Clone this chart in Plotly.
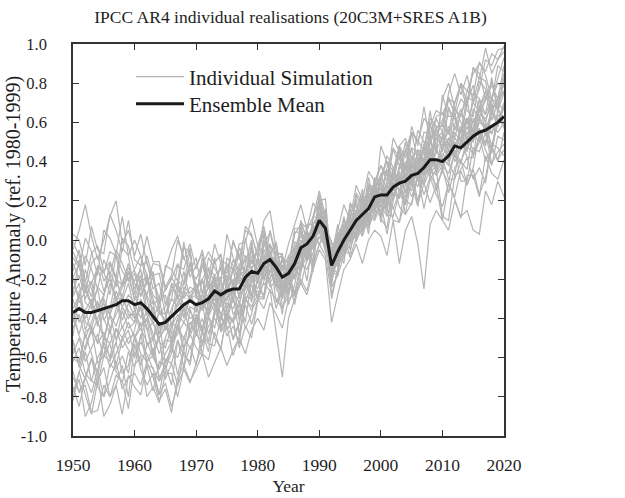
import plotly.graph_objects as go

years = list(range(1950, 2021))

ensemble_mean = [
    -0.37, -0.35, -0.37, -0.37, -0.36, -0.35, -0.34, -0.33, -0.31, -0.31,
    -0.33, -0.32, -0.35, -0.39, -0.43, -0.42, -0.39, -0.36, -0.33, -0.31,
    -0.33, -0.32, -0.30, -0.26, -0.28, -0.26, -0.25, -0.25, -0.19, -0.16,
    -0.17, -0.12, -0.10, -0.14, -0.19, -0.17, -0.12, -0.04, -0.02, 0.02,
    0.10, 0.06, -0.13, -0.06, 0.00, 0.05, 0.10, 0.13, 0.16, 0.22,
    0.23, 0.23, 0.27, 0.29, 0.30, 0.33, 0.34, 0.37, 0.41, 0.41,
    0.40, 0.43, 0.48, 0.47, 0.50, 0.53, 0.55, 0.56, 0.58, 0.60, 0.63,
]

sim_01 = [-0.67,-0.78,-0.70,-0.60,-0.75,-0.80,-0.63,-0.67,-0.73,-0.57,
          -0.65,-0.48,-0.64,-0.77,-0.62,-0.64,-0.74,-0.51,-0.59,-0.62,
          -0.39,-0.47,-0.57,-0.38,-0.37,-0.49,-0.44,-0.53,-0.29,-0.30,
          -0.26,-0.28,-0.09,-0.20,-0.38,-0.14,-0.14,-0.15,0.04,-0.12,
          0.20,0.21,-0.16,-0.12,0.04,0.04,0.24,0.19,0.08,0.23,
          0.23,0.37,0.46,0.38,0.46,0.32,0.38,0.55,0.54,0.63,
          0.65,0.55,0.70,0.79,0.66,0.63,0.81,0.77,0.71,0.89,0.86]
sim_02 = [-0.01,-0.08,-0.22,-0.07,-0.03,-0.16,-0.11,-0.19,0.01,-0.03,
          -0.16,-0.22,-0.08,-0.19,-0.36,-0.13,-0.15,-0.21,-0.01,-0.19,
          -0.13,-0.07,-0.23,-0.22,-0.14,-0.17,-0.01,-0.09,-0.17,-0.05,
          -0.22,-0.03,0.04,-0.10,-0.08,-0.23,-0.13,0.09,0.06,0.19,
          0.13,-0.04,-0.13,0.04,-0.06,-0.07,0.14,0.12,0.07,0.29,
          0.09,0.25,0.16,0.09,0.29,0.29,0.17,0.40,0.33,0.28,
          0.35,0.29,0.22,0.36,0.42,0.31,0.37,0.29,0.49,0.47,0.43]
sim_03 = [-0.51,-0.65,-0.54,-0.45,-0.63,-0.59,-0.45,-0.64,-0.51,-0.46,
          -0.59,-0.49,-0.40,-0.59,-0.66,-0.51,-0.52,-0.40,-0.55,-0.49,
          -0.41,-0.33,-0.48,-0.37,-0.26,-0.46,-0.40,-0.31,-0.42,-0.19,
          -0.29,-0.29,-0.09,-0.10,-0.25,-0.18,-0.28,-0.12,0.04,-0.01,
          0.21,0.03,-0.21,-0.04,-0.05,0.17,0.17,0.06,0.14,0.11,
          0.22,0.35,0.29,0.21,0.38,0.47,0.32,0.40,0.52,0.36,
          0.54,0.41,0.59,0.67,0.51,0.57,0.72,0.53,0.66,0.73,0.76]
sim_04 = [-0.19,-0.12,-0.32,-0.35,-0.24,-0.28,-0.12,-0.19,-0.31,-0.22,
          -0.36,-0.21,-0.19,-0.33,-0.30,-0.46,-0.38,-0.21,-0.23,-0.12,
          -0.23,-0.35,-0.23,-0.09,-0.27,-0.31,-0.14,-0.19,-0.21,-0.02,
          -0.21,0.00,-0.11,-0.24,-0.10,-0.11,-0.19,0.09,0.00,-0.01,
          0.23,0.10,-0.21,0.01,0.10,0.01,0.10,0.04,0.25,0.27,
          0.33,0.26,0.47,0.42,0.30,0.55,0.51,0.45,0.66,0.46,
          0.72,0.80,0.67,0.63,0.76,0.74,0.91,0.84,0.72,0.83,0.93]
sim_05 = [-0.80,-0.71,-0.90,-0.83,-0.69,-0.90,-0.84,-0.74,-0.89,-0.69,
          -0.75,-0.79,-0.64,-0.65,-0.79,-0.73,-0.85,-0.74,-0.57,-0.64,
          -0.45,-0.58,-0.61,-0.47,-0.56,-0.37,-0.41,-0.55,-0.44,-0.50,
          -0.31,-0.13,-0.21,-0.35,-0.24,-0.16,-0.27,-0.14,-0.04,-0.16,
          0.18,-0.02,-0.08,0.08,-0.05,0.03,0.21,0.04,0.18,0.29,
          0.12,0.21,0.37,0.24,0.22,0.39,0.36,0.48,0.34,0.38,
          0.42,0.52,0.40,0.46,0.62,0.43,0.50,0.60,0.45,0.67,0.57]
sim_06 = [-0.28,-0.10,-0.25,-0.34,-0.14,-0.16,-0.28,-0.07,-0.16,-0.21,
          -0.17,-0.29,-0.22,-0.16,-0.36,-0.41,-0.22,-0.24,-0.29,-0.11,
          -0.28,-0.34,-0.15,-0.18,-0.33,-0.09,-0.13,-0.22,0.01,-0.16,
          -0.03,-0.07,-0.17,-0.06,-0.08,-0.20,-0.11,-0.12,0.08,0.08,
          -0.03,0.07,-0.07,-0.10,0.03,-0.09,0.01,0.18,0.16,0.31,
          0.19,0.24,0.10,0.09,0.20,0.18,0.34,0.29,0.19,0.28,
          0.10,0.29,0.21,0.11,0.33,0.33,0.22,0.43,0.34,0.31,0.41]
sim_07 = [-0.37,-0.49,-0.56,-0.46,-0.52,-0.34,-0.38,-0.51,-0.44,-0.53,
          -0.46,-0.32,-0.45,-0.59,-0.47,-0.40,-0.53,-0.45,-0.34,-0.48,
          -0.32,-0.47,-0.32,-0.19,-0.40,-0.35,-0.21,-0.41,-0.24,-0.16,
          -0.30,-0.16,-0.02,-0.21,-0.29,-0.13,-0.12,0.05,-0.11,-0.03,
          0.12,0.15,-0.21,-0.07,0.12,-0.05,0.05,0.17,0.03,0.29,
          0.11,0.06,0.28,0.33,0.24,0.32,0.18,0.29,0.47,0.38,
          0.42,0.31,0.31,0.40,0.36,0.56,0.53,0.40,0.47,0.40,0.55]
sim_08 = [-0.09,-0.14,0.01,-0.06,-0.18,0.05,0.01,-0.07,0.12,-0.08,
          0.00,-0.08,-0.23,-0.12,-0.13,-0.26,-0.19,-0.25,-0.04,-0.06,
          -0.28,-0.13,-0.06,-0.12,-0.07,-0.22,-0.16,-0.02,-0.01,0.11,
          -0.03,0.07,-0.09,-0.16,-0.11,-0.14,0.06,0.06,-0.06,0.07,
          0.04,0.16,-0.16,-0.18,0.07,0.09,0.01,0.24,0.16,0.17,
          0.34,0.21,0.35,0.47,0.32,0.29,0.46,0.44,0.40,0.56,
          0.50,0.46,0.68,0.60,0.50,0.75,0.72,0.64,0.83,0.65,0.83]
sim_09 = [-0.78,-0.67,-0.57,-0.72,-0.74,-0.59,-0.62,-0.52,-0.68,-0.64,
          -0.49,-0.64,-0.54,-0.49,-0.72,-0.68,-0.52,-0.69,-0.55,-0.48,
          -0.55,-0.59,-0.39,-0.32,-0.44,-0.37,-0.51,-0.43,-0.23,-0.29,
          -0.21,-0.09,-0.24,-0.21,-0.13,-0.33,-0.23,-0.06,-0.21,0.03,
          0.06,0.15,-0.14,-0.17,0.05,0.16,0.05,0.13,0.24,0.14,
          0.27,0.13,0.12,0.24,0.18,0.38,0.34,0.23,0.32,0.23,
          0.17,0.29,0.46,0.30,0.30,0.47,0.45,0.55,0.39,0.45,0.49]
sim_10 = [-0.42,-0.26,-0.23,-0.33,-0.25,-0.41,-0.35,-0.20,-0.23,-0.14,
          -0.21,-0.15,-0.36,-0.43,-0.37,-0.41,-0.23,-0.28,-0.39,-0.28,
          -0.37,-0.20,-0.31,-0.36,-0.19,-0.20,-0.32,-0.12,-0.17,-0.19,
          -0.11,-0.19,-0.07,-0.01,-0.22,-0.26,-0.05,-0.02,-0.08,0.12,
          0.11,0.00,-0.02,-0.02,-0.09,0.18,0.18,0.12,0.32,0.18,
          0.48,0.39,0.31,0.48,0.52,0.41,0.46,0.40,0.62,0.58,
          0.58,0.75,0.85,0.74,0.84,0.70,0.77,0.92,0.89,0.97,0.98]
sim_11 = [-0.60,-0.63,-0.47,-0.44,-0.53,-0.47,-0.61,-0.52,-0.36,-0.45,
          -0.42,-0.34,-0.54,-0.51,-0.42,-0.63,-0.55,-0.43,-0.57,-0.35,
          -0.45,-0.31,-0.39,-0.45,-0.31,-0.23,-0.38,-0.33,-0.19,-0.32,
          -0.10,-0.19,-0.22,-0.16,-0.28,-0.09,-0.09,-0.15,-0.08,-0.13,
          -0.02,0.03,-0.04,-0.12,-0.09,0.10,0.11,0.23,0.08,0.18,
          0.19,0.03,0.20,0.31,0.13,0.19,0.33,0.16,0.31,0.36,
          0.12,0.10,0.33,0.35,0.28,0.36,0.23,0.32,0.48,0.41,0.46]
sim_12 = [-0.06,-0.13,-0.27,-0.12,-0.08,-0.21,-0.16,-0.24,-0.04,-0.08,
          -0.28,-0.13,-0.11,-0.25,-0.22,-0.38,-0.30,-0.13,-0.15,-0.04,
          -0.29,-0.12,-0.23,-0.28,-0.11,-0.12,-0.24,-0.04,-0.09,-0.11,
          -0.05,0.05,-0.11,-0.18,-0.13,-0.16,0.04,0.04,-0.08,0.05,
          0.08,-0.03,-0.05,-0.05,-0.12,0.15,0.15,0.09,0.29,0.15,
          0.30,0.17,0.31,0.43,0.28,0.25,0.42,0.40,0.36,0.52,
          0.55,0.49,0.42,0.56,0.62,0.51,0.57,0.49,0.69,0.67,0.62]
sim_13 = [-0.82,-0.67,-0.79,-0.89,-0.72,-0.65,-0.80,-0.74,-0.64,-0.80,
          -0.53,-0.66,-0.74,-0.68,-0.79,-0.61,-0.63,-0.74,-0.66,-0.73,
          -0.63,-0.53,-0.39,-0.50,-0.55,-0.39,-0.42,-0.33,-0.45,-0.38,
          -0.19,-0.30,-0.15,-0.10,-0.34,-0.29,-0.11,-0.23,-0.10,-0.01,
          0.04,-0.05,-0.06,0.04,0.00,0.10,0.00,0.11,0.28,0.25,
          0.33,0.40,0.27,0.36,0.50,0.31,0.37,0.49,0.36,0.56,
          0.51,0.67,0.62,0.51,0.70,0.79,0.65,0.71,0.81,0.67,0.83]
sim_14 = [-0.29,-0.22,-0.42,-0.45,-0.34,-0.38,-0.22,-0.29,-0.41,-0.32,
          -0.39,-0.22,-0.38,-0.51,-0.36,-0.38,-0.48,-0.25,-0.33,-0.36,
          -0.43,-0.28,-0.21,-0.27,-0.22,-0.37,-0.31,-0.17,-0.16,-0.04,
          -0.12,-0.20,-0.08,-0.02,-0.23,-0.27,-0.06,-0.03,-0.09,0.11,
          0.21,0.08,-0.23,-0.01,0.08,-0.01,0.08,0.02,0.23,0.25,
          0.21,0.14,0.35,0.30,0.18,0.43,0.39,0.33,0.54,0.34,
          0.48,0.56,0.43,0.39,0.52,0.50,0.67,0.60,0.48,0.59,0.63]
sim_15 = [-0.52,-0.64,-0.71,-0.61,-0.67,-0.49,-0.53,-0.66,-0.59,-0.68,
          -0.50,-0.42,-0.62,-0.59,-0.50,-0.71,-0.63,-0.51,-0.65,-0.43,
          -0.39,-0.54,-0.39,-0.26,-0.47,-0.42,-0.28,-0.48,-0.31,-0.23,
          -0.30,-0.30,-0.10,-0.11,-0.26,-0.19,-0.29,-0.13,0.03,-0.02,
          0.01,0.06,-0.01,-0.09,-0.06,0.13,0.14,0.26,0.11,0.21,
          0.30,0.43,0.37,0.29,0.46,0.55,0.40,0.48,0.60,0.44,
          0.74,0.63,0.63,0.72,0.68,0.88,0.85,0.72,0.79,0.72,0.89]
sim_16 = [-0.18,-0.32,-0.26,-0.21,-0.36,-0.29,-0.12,-0.21,-0.29,-0.16,
          -0.31,-0.25,-0.17,-0.41,-0.32,-0.28,-0.44,-0.32,-0.16,-0.30,
          -0.25,-0.20,-0.36,-0.23,-0.29,-0.13,-0.15,-0.30,-0.12,0.00,
          -0.22,0.03,-0.12,-0.07,-0.07,-0.27,-0.09,0.06,-0.09,0.02,
          0.07,-0.06,-0.11,0.04,-0.05,0.05,0.00,0.06,0.27,0.28,
          0.29,0.20,0.29,0.17,0.13,0.33,0.27,0.40,0.39,0.25,
          0.37,0.24,0.37,0.41,0.28,0.37,0.55,0.46,0.38,0.53,0.51]
sim_17 = [-0.49,-0.27,-0.46,-0.37,-0.31,-0.52,-0.38,-0.30,-0.45,-0.38,
          -0.38,-0.46,-0.35,-0.31,-0.50,-0.44,-0.51,-0.45,-0.24,-0.27,
          -0.23,-0.31,-0.24,-0.34,-0.41,-0.22,-0.28,-0.18,-0.17,-0.28,
          -0.09,-0.20,-0.10,-0.09,-0.30,-0.22,-0.01,-0.03,-0.11,0.06,
          0.06,0.07,-0.01,-0.14,0.05,0.13,-0.01,0.11,0.27,0.17,
          0.32,0.36,0.22,0.33,0.30,0.47,0.45,0.33,0.49,0.58,
          0.45,0.68,0.56,0.64,0.72,0.53,0.68,0.76,0.61,0.70,0.80]
sim_18 = [0.03,0.00,-0.13,0.07,-0.05,-0.07,0.13,0.05,-0.06,0.10,
          -0.10,-0.13,0.02,-0.11,-0.11,-0.24,-0.18,0.00,-0.09,-0.16,
          -0.09,-0.28,-0.09,-0.14,-0.21,0.03,-0.09,-0.16,0.07,0.03,
          -0.09,0.05,-0.07,-0.19,-0.09,-0.12,0.03,0.08,-0.08,0.01,
          -0.02,0.03,-0.21,0.00,0.11,-0.01,0.11,0.04,0.12,0.32,
          0.12,0.28,0.24,0.21,0.38,0.35,0.20,0.33,0.47,0.34,
          0.41,0.39,0.33,0.52,0.42,0.42,0.63,0.55,0.44,0.62,0.59]
sim_19 = [-0.70,-0.77,-0.74,-0.88,-0.87,-0.74,-0.80,-0.69,-0.72,-0.86,
          -0.64,-0.59,-0.80,-0.75,-0.83,-0.68,-0.68,-0.80,-0.65,-0.54,
          -0.64,-0.47,-0.53,-0.54,-0.40,-0.44,-0.59,-0.49,-0.33,-0.43,
          -0.31,-0.21,-0.08,-0.32,-0.24,-0.19,-0.33,-0.16,-0.01,-0.13,
          0.19,-0.05,-0.07,-0.09,-0.08,0.19,0.11,0.07,0.27,0.26,
          0.26,0.17,0.35,0.45,0.31,0.39,0.30,0.36,0.58,0.53,
          0.60,0.54,0.64,0.49,0.47,0.67,0.62,0.73,0.70,0.58,0.68]
sim_20 = [-0.16,-0.05,-0.21,-0.29,-0.13,-0.17,-0.06,-0.08,-0.24,-0.19,
          -0.30,-0.20,-0.28,-0.18,-0.17,-0.33,-0.23,-0.30,-0.22,-0.06,
          -0.30,-0.09,-0.24,-0.11,-0.08,-0.28,-0.14,-0.07,-0.18,-0.08,
          -0.16,-0.15,0.05,-0.08,-0.09,-0.21,-0.13,0.10,0.00,-0.05,
          0.20,0.00,-0.11,0.01,-0.09,0.02,0.23,0.16,0.09,0.28,
          0.38,0.33,0.26,0.48,0.36,0.36,0.56,0.50,0.41,0.57,
          0.61,0.73,0.64,0.55,0.73,0.71,0.83,0.81,0.65,0.72,0.85]
sim_21 = [-0.05,0.05,0.18,0.02,-0.10,0.00,0.12,0.20,-0.02,0.05,
          -0.08,0.03,-0.12,-0.20,-0.30,-0.15,-0.05,0.02,-0.10,-0.02,
          -0.15,-0.05,-0.20,-0.02,-0.12,-0.22,0.00,-0.10,0.05,0.02,
          -0.08,0.10,0.15,-0.05,-0.15,-0.02,0.08,0.18,0.05,0.12,
          0.25,0.12,-0.10,0.05,0.18,0.10,0.28,0.20,0.35,0.30,
          0.38,0.30,0.52,0.45,0.35,0.58,0.48,0.68,0.50,0.62,
          0.55,0.72,0.65,0.80,0.70,0.88,0.82,0.98,0.85,0.92,0.96]
sim_22 = [-0.55,-0.62,-0.48,-0.58,-0.70,-0.52,-0.60,-0.45,-0.55,-0.50,
          -0.48,-0.58,-0.62,-0.55,-0.70,-0.65,-0.58,-0.45,-0.50,-0.42,
          -0.48,-0.40,-0.52,-0.35,-0.45,-0.38,-0.50,-0.42,-0.30,-0.36,
          -0.30,-0.35,-0.25,-0.48,-0.70,-0.40,-0.30,-0.22,-0.28,-0.15,
          -0.05,-0.10,-0.42,-0.28,-0.15,-0.10,-0.02,-0.12,0.00,0.05,
          0.02,-0.08,0.10,-0.12,0.05,0.12,-0.02,-0.25,0.08,0.15,
          0.10,0.05,0.20,0.12,0.15,0.05,0.03,0.25,0.18,0.30,0.22]
sim_23 = [-0.20,-0.30,-0.15,-0.25,-0.35,-0.28,-0.18,-0.30,-0.22,-0.12,
          -0.25,-0.18,-0.30,-0.42,-0.50,-0.45,-0.35,-0.28,-0.40,-0.30,
          -0.22,-0.35,-0.28,-0.18,-0.30,-0.40,-0.25,-0.15,-0.22,-0.10,
          -0.18,-0.05,-0.12,-0.25,-0.30,-0.12,-0.20,-0.08,0.05,-0.02,
          0.08,0.12,-0.30,-0.15,0.02,0.10,0.05,0.20,0.12,0.18,
          0.15,0.28,0.20,0.35,0.25,0.30,0.42,0.38,0.32,0.48,
          0.35,0.50,0.42,0.58,0.45,0.62,0.55,0.48,0.65,0.58,0.70]
sim_24 = [-0.45,-0.38,-0.50,-0.42,-0.32,-0.40,-0.48,-0.35,-0.28,-0.38,
          -0.42,-0.30,-0.38,-0.48,-0.58,-0.50,-0.42,-0.45,-0.35,-0.40,
          -0.38,-0.45,-0.32,-0.30,-0.25,-0.35,-0.30,-0.38,-0.28,-0.20,
          -0.25,-0.15,-0.20,-0.10,-0.22,-0.28,-0.15,-0.05,-0.10,0.00,
          0.05,0.02,-0.20,-0.10,-0.02,0.08,0.02,0.15,0.22,0.12,
          0.20,0.18,0.32,0.25,0.38,0.28,0.35,0.45,0.40,0.36,
          0.48,0.42,0.55,0.50,0.62,0.56,0.68,0.60,0.72,0.66,0.75]
sim_25 = [-0.58,-0.50,-0.62,-0.55,-0.48,-0.60,-0.52,-0.45,-0.50,-0.42,
          -0.50,-0.45,-0.52,-0.60,-0.66,-0.58,-0.52,-0.48,-0.42,-0.46,
          -0.40,-0.48,-0.36,-0.30,-0.38,-0.32,-0.35,-0.28,-0.25,-0.18,
          -0.22,-0.12,-0.18,-0.20,-0.28,-0.22,-0.10,-0.08,0.02,-0.04,
          0.08,0.02,-0.18,-0.10,-0.04,0.06,0.12,0.08,0.18,0.15,
          0.22,0.16,0.28,0.32,0.24,0.36,0.30,0.40,0.35,0.45,
          0.42,0.38,0.50,0.46,0.55,0.52,0.60,0.58,0.54,0.64,0.60]
sim_26 = [-0.12,-0.20,-0.08,-0.15,-0.25,-0.10,-0.18,-0.05,-0.12,-0.20,
          -0.15,-0.08,-0.18,-0.28,-0.32,-0.25,-0.20,-0.12,-0.22,-0.15,
          -0.20,-0.12,-0.25,-0.18,-0.15,-0.22,-0.10,-0.18,-0.08,-0.12,
          -0.10,-0.02,-0.08,-0.15,-0.20,-0.12,-0.05,0.02,-0.04,0.08,
          0.12,0.05,-0.15,-0.02,0.06,0.02,0.15,0.10,0.20,0.26,
          0.20,0.30,0.25,0.38,0.32,0.42,0.36,0.48,0.44,0.52,
          0.48,0.58,0.52,0.65,0.60,0.70,0.66,0.75,0.72,0.80,0.78]
sim_27 = [-0.75,-0.85,-0.70,-0.78,-0.66,-0.80,-0.72,-0.62,-0.76,-0.70,
          -0.68,-0.74,-0.62,-0.70,-0.82,-0.76,-0.88,-0.70,-0.64,-0.72,
          -0.66,-0.58,-0.70,-0.62,-0.55,-0.64,-0.56,-0.50,-0.58,-0.46,
          -0.40,-0.46,-0.32,-0.38,-0.45,-0.30,-0.28,-0.20,-0.26,-0.12,
          -0.02,-0.08,-0.28,-0.15,-0.05,0.00,0.08,0.02,0.12,0.10,
          0.18,0.12,0.22,0.30,0.20,0.28,0.35,0.30,0.40,0.38,
          0.44,0.40,0.52,0.48,0.58,0.50,0.62,0.56,0.66,0.60,0.70]
sim_28 = [-0.35,-0.28,-0.40,-0.32,-0.44,-0.30,-0.38,-0.26,-0.34,-0.28,
          -0.32,-0.40,-0.28,-0.36,-0.45,-0.40,-0.30,-0.34,-0.26,-0.30,
          -0.28,-0.36,-0.30,-0.22,-0.32,-0.26,-0.20,-0.28,-0.18,-0.22,
          -0.15,-0.20,-0.08,-0.12,-0.22,-0.16,-0.10,0.00,-0.06,0.05,
          0.08,0.12,-0.12,-0.04,0.04,0.10,0.06,0.18,0.22,0.28,
          0.32,0.40,0.35,0.48,0.42,0.55,0.50,0.62,0.58,0.66,
          0.64,0.72,0.70,0.80,0.76,0.85,0.90,0.86,0.95,0.92,0.99]
sim_29 = [-0.62,-0.55,-0.68,-0.72,-0.60,-0.54,-0.65,-0.58,-0.50,-0.56,
          -0.60,-0.52,-0.58,-0.66,-0.72,-0.62,-0.56,-0.60,-0.50,-0.55,
          -0.48,-0.52,-0.44,-0.40,-0.46,-0.38,-0.42,-0.36,-0.30,-0.34,
          -0.28,-0.22,-0.26,-0.30,-0.35,-0.25,-0.18,-0.12,-0.15,-0.06,
          0.02,-0.04,-0.24,-0.18,-0.08,-0.02,0.04,0.10,0.06,0.15,
          0.12,0.20,0.16,0.24,0.30,0.22,0.32,0.28,0.36,0.33,
          0.38,0.34,0.45,0.40,0.48,0.44,0.52,0.50,0.58,0.55,0.60]
sim_30 = [-0.30,-0.42,-0.35,-0.48,-0.40,-0.32,-0.45,-0.38,-0.30,-0.36,
          -0.40,-0.35,-0.46,-0.42,-0.52,-0.55,-0.44,-0.38,-0.42,-0.34,
          -0.36,-0.30,-0.38,-0.28,-0.34,-0.30,-0.26,-0.32,-0.22,-0.15,
          -0.20,-0.10,-0.06,-0.18,-0.25,-0.20,-0.14,-0.06,0.00,-0.02,
          0.14,0.08,-0.16,-0.08,0.02,0.08,0.14,0.16,0.12,0.24,
          0.26,0.22,0.32,0.28,0.36,0.40,0.34,0.42,0.46,0.40,
          0.46,0.52,0.48,0.56,0.60,0.55,0.64,0.62,0.68,0.70,0.66]
sim_31 = [-0.40,-0.48,-0.36,-0.30,-0.42,-0.50,-0.38,-0.44,-0.34,-0.40,
          -0.36,-0.44,-0.40,-0.34,-0.48,-0.42,-0.50,-0.40,-0.36,-0.28,
          -0.34,-0.28,-0.32,-0.26,-0.20,-0.30,-0.24,-0.22,-0.16,-0.20,
          -0.14,-0.08,-0.12,-0.10,-0.18,-0.14,-0.08,-0.02,0.04,0.00,
          0.06,0.10,-0.08,-0.02,0.04,0.00,0.12,0.15,0.10,0.20,
          0.24,0.28,0.22,0.30,0.34,0.28,0.38,0.34,0.44,0.40,
          0.38,0.46,0.42,0.50,0.46,0.54,0.50,0.58,0.55,0.62,0.58]
sim_32 = [-0.25,-0.18,-0.30,-0.22,-0.14,-0.26,-0.20,-0.32,-0.24,-0.16,
          -0.22,-0.28,-0.20,-0.30,-0.38,-0.34,-0.26,-0.22,-0.30,-0.24,
          -0.26,-0.20,-0.14,-0.22,-0.28,-0.18,-0.22,-0.16,-0.10,-0.14,
          -0.12,-0.06,-0.02,-0.10,-0.16,-0.08,-0.04,0.04,0.00,0.08,
          0.14,0.06,-0.10,0.00,0.04,0.12,0.08,0.20,0.16,0.24,
          0.28,0.24,0.34,0.30,0.40,0.36,0.44,0.40,0.50,0.46,
          0.52,0.48,0.58,0.55,0.62,0.60,0.68,0.64,0.72,0.70,0.76]

simulations = [sim_01, sim_02, sim_03, sim_04, sim_05, sim_06, sim_07, sim_08,
               sim_09, sim_10, sim_11, sim_12, sim_13, sim_14, sim_15, sim_16,
               sim_17, sim_18, sim_19, sim_20, sim_21, sim_22, sim_23, sim_24,
               sim_25, sim_26, sim_27, sim_28, sim_29, sim_30, sim_31, sim_32]

x_ticks = [1950, 1960, 1970, 1980, 1990, 2000, 2010, 2020]
y_ticks = [-1.0, -0.8, -0.6, -0.4, -0.2, 0.0, 0.2, 0.4, 0.6, 0.8, 1.0]
y_tick_labels = ["-1.0", "-0.8", "-0.6", "-0.4", "-0.2", "0.0", "0.2", "0.4", "0.6", "0.8", "1.0"]

FONT = "Liberation Serif, Times New Roman, serif"
INK = "#1e1e1e"
GREY = "#b4b4b4"

# plot-area geometry in pixels
W, H = 625, 498
L, R, T, B = 73, 121, 44, 62
PW, PH = W - L - R, H - T - B

fig = go.Figure()
for i, sim in enumerate(simulations):
    fig.add_trace(go.Scatter(
        x=years, y=sim, mode="lines",
        line=dict(color=GREY, width=1.2),
        name="Individual Simulation",
        legend="legend", showlegend=(i == 0),
        hoverinfo="skip",
    ))
fig.add_trace(go.Scatter(
    x=years, y=ensemble_mean, mode="lines",
    line=dict(color="#1a1a1a", width=3),
    name="Ensemble Mean",
    legend="legend2",
))

axis_common = dict(
    showline=True, linecolor="#333333", linewidth=1.5, mirror="ticks",
    ticks="inside", ticklen=6, tickwidth=1.2, tickcolor="#333333",
    showgrid=False, zeroline=False, automargin=False,
)

legend_common = dict(
    xanchor="left", yanchor="middle",
    bgcolor="rgba(0,0,0,0)", borderwidth=0,
    font=dict(family=FONT, size=21, color=INK),
    itemwidth=48,
)

fig.update_layout(
    width=W, height=H,
    margin=dict(l=L, r=R, t=T, b=B),
    paper_bgcolor="white", plot_bgcolor="white",
    font=dict(family=FONT, color=INK),
    title=dict(
        text="IPCC AR4 individual realisations (20C3M+SRES A1B)",
        font=dict(family=FONT, size=17.5, color=INK),
        x=(L + PW / 2 + 2) / W, xanchor="center",
        y=1 - 17 / H, yanchor="middle", yref="container",
    ),
    xaxis=dict(
        range=[1950, 2020], tickvals=x_ticks,
        ticklabelstandoff=12,
        tickfont=dict(family=FONT, size=17.5, color=INK),
        title=dict(text="Year", font=dict(family=FONT, size=17.5, color=INK), standoff=6),
        **axis_common,
    ),
    yaxis=dict(
        range=[-1.0, 1.0], tickvals=y_ticks, ticktext=y_tick_labels,
        ticklabelstandoff=21,
        tickfont=dict(family=FONT, size=16.5, color=INK),
        **axis_common,
    ),
    legend=dict(x=(131 - L) / PW, y=(H - B - 77) / PH, **legend_common),
    legend2=dict(x=(131 - L) / PW, y=(H - B - 104) / PH, **legend_common),
    showlegend=True,
    annotations=[dict(
        text="Temperature Anomaly (ref. 1980-1999)",
        xref="paper", yref="paper",
        x=(13 - L) / PW, y=0.515, xanchor="center", yanchor="middle",
        textangle=-90, showarrow=False,
        font=dict(family=FONT, size=20, color=INK),
    )],
)

fig.write_html("out.html", config={"displayModeBar": False},
               post_script="document.body.style.margin='0';")
